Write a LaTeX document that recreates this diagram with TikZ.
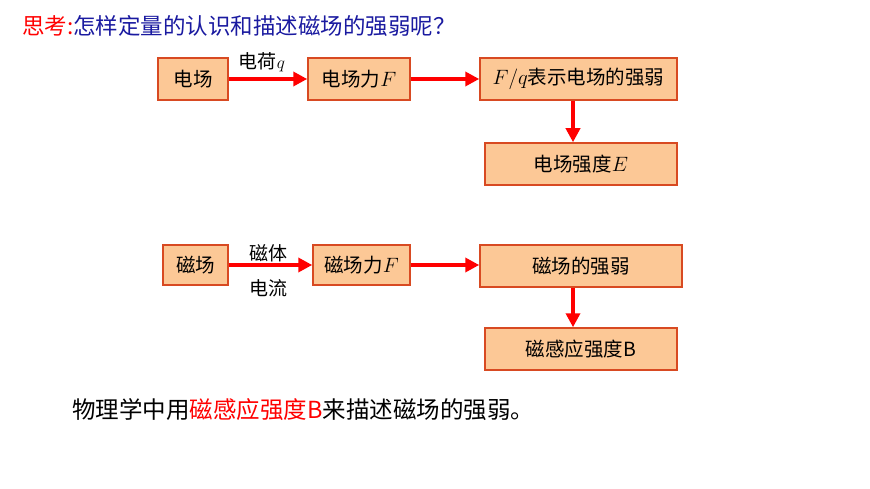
\documentclass[tikz,border=0pt]{standalone}
\usepackage{fontspec}
\setmainfont{Noto Sans CJK SC}
\usetikzlibrary{arrows.meta}
\definecolor{boxfill}{HTML}{FCC896}
\definecolor{boxline}{HTML}{D84A22}
\definecolor{titleblue}{HTML}{1A1AA0}
\tikzset{
 bx/.style={draw=boxline,line width=1.5pt,fill=boxfill,inner sep=0pt,font=\fontsize{19.5}{22}\selectfont},
 ar/.style={red,line width=4.5pt,-{Triangle[length=14pt,width=14pt]}},
 lbl/.style={font=\fontsize{19}{22}\selectfont,inner sep=0pt}
}
\newcommand{\mybox}[6]{\node[bx,minimum width=#4-#2,minimum height=#5-#3] (#1) at ({(#2+#4)/2},{(#3+#5)/2}) {#6};}
\begin{document}
\begin{tikzpicture}[x=1pt,y=-1pt]
\useasboundingbox (0,0) rectangle (870,489);
\node[anchor=west,inner sep=0pt,font=\fontsize{22.5}{26}\selectfont] (t) at (22,26) {\textcolor{red}{思考:}\textcolor{titleblue}{怎样定量的认识和描述磁场的强弱呢？}};
\mybox{a}{158}{58}{228}{100}{电场}
\mybox{b}{308}{58}{410}{100}{电场力$F$}
\mybox{c}{480}{58}{677}{100}{$F/q$表示电场的强弱}
\mybox{d}{485}{143}{677}{185}{电场强度$E$}
\mybox{e}{163}{245}{228}{285}{磁场}
\mybox{f}{313}{245}{410}{285}{磁场力$F$}
\mybox{g}{480}{245}{682}{287}{磁场的强弱}
\mybox{h}{485}{328}{677}{370}{磁感应强度B}
\draw[ar] (a) -- (b);
\draw[ar] (b) -- (c);
\draw[ar] (c.south -| 573,0) -- (d.north -| 573,0);
\draw[ar] (e) -- (f);
\draw[ar] (f) -- (f -| g.west);
\draw[ar] (g.south -| 573,0) -- (h.north -| 573,0);
\node[lbl] (l1) at (262,62) {电荷$q$};
\node[lbl] (l2) at (268,253) {磁体};
\node[lbl] (l3) at (268,288) {电流};
\node[anchor=west,inner sep=0pt,font=\fontsize{23.5}{26}\selectfont] (s) at (72,410) {物理学中用\textcolor{red}{磁感应强度B}来描述磁场的强弱。};
\end{tikzpicture}
\end{document}
